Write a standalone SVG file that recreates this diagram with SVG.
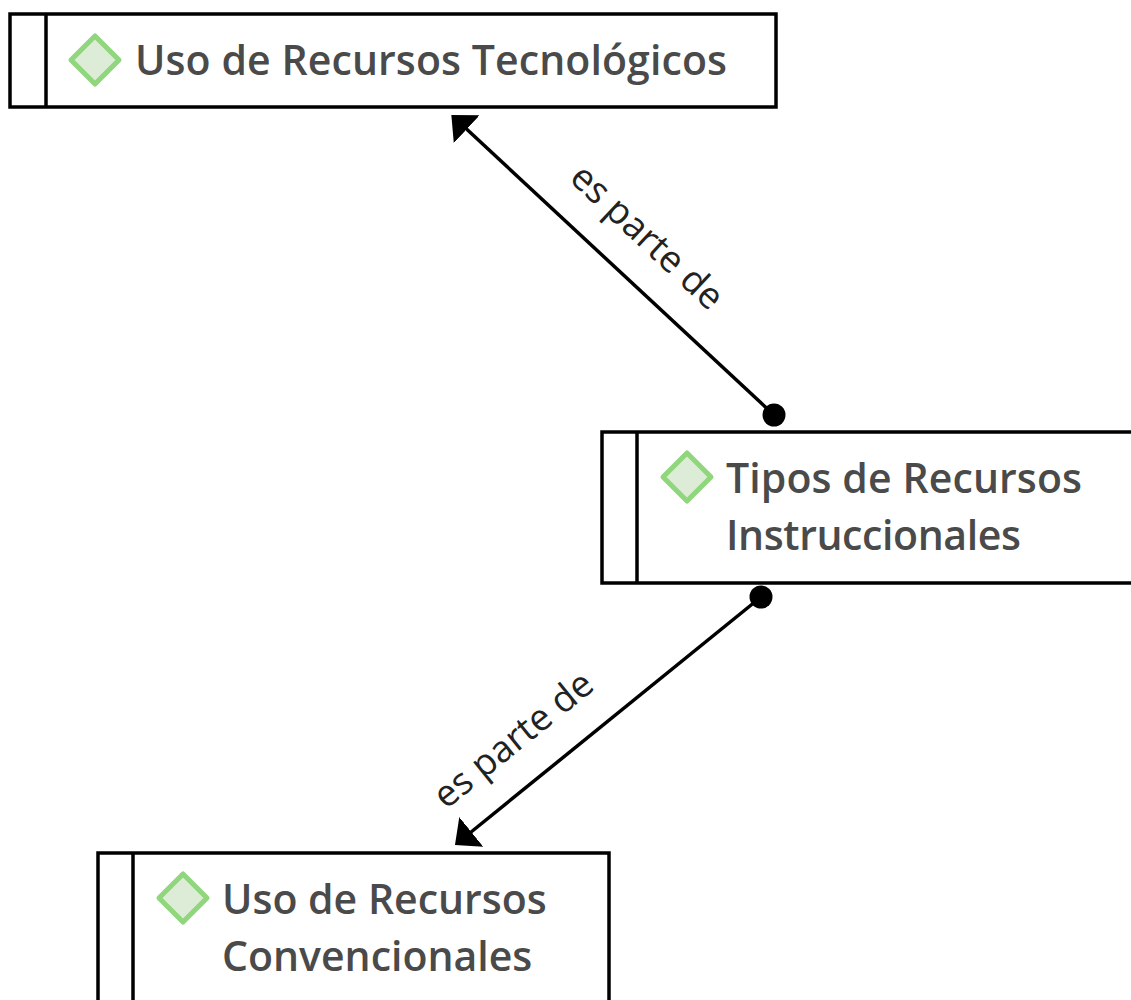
<svg xmlns="http://www.w3.org/2000/svg" width="1131" height="1000" viewBox="0 0 1131 1000">
<style>
.box{fill:#fff;stroke:#000;stroke-width:3.500}
.d{fill:#dcecd6;stroke:#8fd67c;stroke-width:5;stroke-linejoin:round}
.t{font-family:"Open Sans","Noto Sans",sans-serif;font-weight:600;font-size:41px;fill:#4a4a4a}
.l{font-family:"Open Sans","Noto Sans",sans-serif;font-size:37px;fill:#222}
.c{stroke:#000;stroke-width:3.500;fill:none}
</style>
<defs>
<marker id="a" markerUnits="userSpaceOnUse" markerWidth="24" markerHeight="42" refX="1" refY="20" orient="auto"><path d="M0 1L21 20L0 39Z" fill="#000"/></marker>
</defs>
<rect width="1131" height="1000" fill="#fff"/>
<g id="connectors">
<path class="c" d="M774 415L466 128.500" marker-end="url(#a)"/>
<circle cx="774" cy="415" r="11.500"/>
<path class="c" d="M761 597L470.500 832.500" marker-end="url(#a)"/>
<circle cx="761" cy="597" r="11.500"/>
<text class="l" transform="translate(568 180) rotate(43)">es parte de</text>
<text class="l" transform="translate(446 810) rotate(-39)">es parte de</text>
</g>
<g id="n1">
<rect class="box" x="10" y="14" width="766" height="93"/><path class="c" d="M46 14V107"/>
<path class="d" d="M95 36L119 60L95 84L71 60Z"/>
<text class="t" x="135" y="75" textLength="592">Uso de Recursos Tecnológicos</text>
</g>
<g id="n2">
<rect class="box" x="602" y="432" width="535" height="151"/><path class="c" d="M637 432V583"/>
<path class="d" d="M687 453L711 477L687 501L663 477Z"/>
<text class="t" x="726" y="493" textLength="356">Tipos de Recursos</text>
<text class="t" x="726" y="550" textLength="295">Instruccionales</text>
</g>
<g id="n3">
<rect class="box" x="98" y="853" width="511" height="160"/><path class="c" d="M133 853V1013"/>
<path class="d" d="M183 874L207 898L183 922L159 898Z"/>
<text class="t" x="222" y="914">Uso de Recursos</text>
<text class="t" x="222" y="971">Convencionales</text>
</g>
</svg>
